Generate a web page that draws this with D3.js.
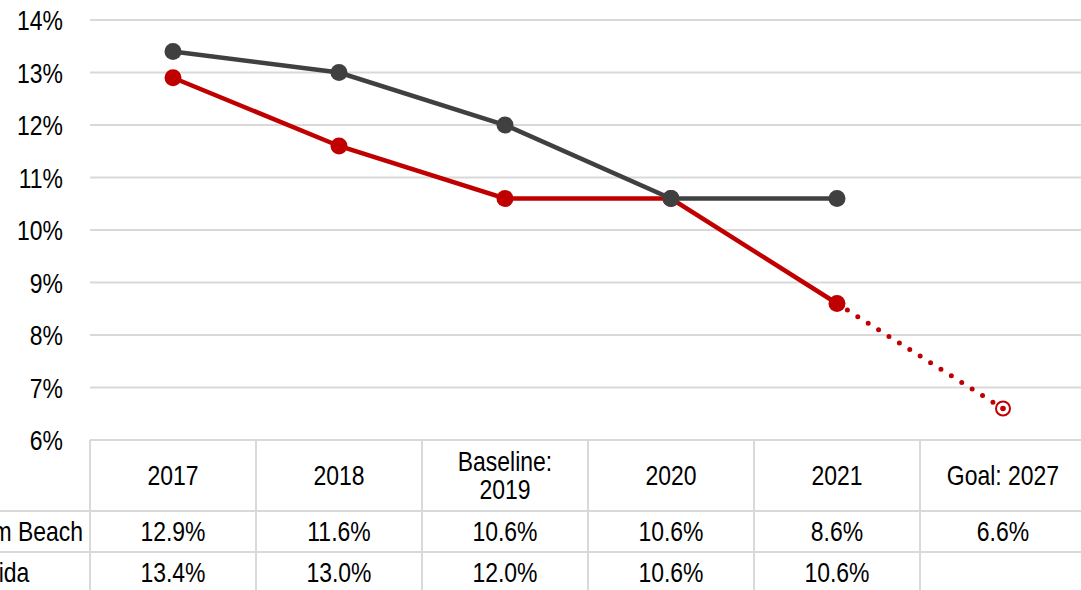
<!DOCTYPE html>
<html>
<head>
<meta charset="utf-8">
<script src="https://cdn.jsdelivr.net/npm/d3@7"></script>
<style>
  html, body { margin: 0; padding: 0; background: #fff; overflow: hidden; }
  svg { display: block; font-family: "Liberation Sans Narrow", "Arial Narrow", "Liberation Sans", Arial, sans-serif; }
</style>
</head>
<body>
<svg id="chart" width="1081" height="590"></svg>
<script>
// Category columns (header labels; "\n" breaks a label onto two lines)
const categories = ["2017", "2018", "Baseline:\n2019", "2020", "2021", "Goal: 2027"];
// Series names
const seriesNames = ["Palm Beach", "Florida"];
// Palm Beach rate by year; last entry is the 2027 goal
const palmBeach = [12.9, 11.6, 10.6, 10.6, 8.6, 6.6];
// Florida rate by year (no goal)
const florida = [13.4, 13.0, 12.0, 10.6, 10.6, null];
// Y axis ticks (percent)
const yTicks = [6, 7, 8, 9, 10, 11, 12, 13, 14];

const RED = "#C00000", GRAY = "#404040", GRID = "#D9D9D9";
const FS = 28;
const SQUEEZE = 0.82; // condensed lettering

// compress text horizontally about its own x anchor
function narrow(sel) {
  sel.attr("transform", function () {
    const x = +this.getAttribute("x") || 0;
    return `translate(${x},0) scale(${SQUEEZE},1) translate(${-x},0)`;
  });
}

const svg = d3.select("#chart");
const plotL = 90, plotR = 1086, plotT = 20, plotB = 440;
const rowH = [71, 41, 41];

const x = d3.scaleBand().domain(categories).range([plotL, plotR]).padding(0);
const y = d3.scaleLinear().domain([6, 14]).range([plotB, plotT]);
const cx = c => x(c) + x.bandwidth() / 2;

// horizontal gridlines
svg.append("g").selectAll("line").data(yTicks.slice(1)).join("line")
  .attr("x1", plotL).attr("x2", plotR)
  .attr("y1", d => y(d)).attr("y2", d => y(d))
  .attr("stroke", GRID).attr("stroke-width", 2);

// y axis labels
const yAxis = d3.axisLeft(y).tickValues(yTicks).tickFormat(d => d + "%").tickSize(0).tickPadding(0);
const yg = svg.append("g").attr("transform", "translate(63,0)").call(yAxis);
yg.select(".domain").remove();
yg.attr("font-family", null).attr("font-size", null);
yg.selectAll("text").attr("font-size", FS).attr("fill", "#000").attr("dy", "0.35em").call(narrow);

// data table grid
const rowY = [plotB, plotB + rowH[0], plotB + rowH[0] + rowH[1], plotB + rowH[0] + rowH[1] + rowH[2]];
const tbl = svg.append("g");
tbl.selectAll("line.h").data(rowY).join("line").attr("class", "h")
  .attr("x1", (d, i) => i === 0 ? plotL : 0).attr("x2", plotR)
  .attr("y1", d => d).attr("y2", d => d)
  .attr("stroke", GRID).attr("stroke-width", 2);
const colEdges = categories.map(c => x(c)).concat([plotR]);
tbl.selectAll("line.v").data(colEdges).join("line").attr("class", "v")
  .attr("x1", d => d).attr("x2", d => d)
  .attr("y1", plotB).attr("y2", 590)
  .attr("stroke", GRID).attr("stroke-width", 2);

// header labels
const hdr = tbl.append("g");
categories.forEach(c => {
  const lines = c.split("\n");
  const midY = (rowY[0] + rowY[1]) / 2;
  const lh = 28;
  const t = hdr.append("text").attr("x", cx(c)).attr("text-anchor", "middle")
    .attr("font-size", FS).attr("fill", "#000");
  lines.forEach((ln, i) => {
    t.append("tspan").attr("x", cx(c))
      .attr("y", midY + (i - (lines.length - 1) / 2) * lh)
      .attr("dy", "0.35em").text(ln);
  });
  t.call(narrow);
});

// value rows
const fmt = d => d == null ? "" : d3.format(".1f")(d) + "%";
[palmBeach, florida].forEach((vals, r) => {
  const midY = (rowY[r + 1] + rowY[r + 2]) / 2;
  tbl.append("g").selectAll("text").data(vals).join("text")
    .attr("x", (d, i) => cx(categories[i]))
    .attr("y", midY).attr("dy", "0.35em")
    .attr("text-anchor", "middle").attr("font-size", FS).attr("fill", "#000")
    .text(fmt).call(narrow);
});

// row names share a left edge; the longer one ends just before the table
const names = tbl.append("g").selectAll("text").data(seriesNames).join("text")
  .attr("y", (d, r) => (rowY[r + 1] + rowY[r + 2]) / 2).attr("dy", "0.35em")
  .attr("font-size", FS).attr("fill", "#000").text(d => d);
const maxW = d3.max(names.nodes(), n => n.getComputedTextLength()) * SQUEEZE;
names.attr("x", 83 - maxW).call(narrow);

// lines
const line = d3.line().defined(d => d.v != null).x(d => cx(d.c)).y(d => y(d.v));
const pb = palmBeach.map((v, i) => ({ c: categories[i], v }));
const fl = florida.map((v, i) => ({ c: categories[i], v }));
const pbActual = pb.slice(0, 5);
const pbGoal = pb.slice(4);

// dotted projection to goal
svg.append("path").datum(pbGoal).attr("d", line)
  .attr("fill", "none").attr("stroke", RED).attr("stroke-width", 5)
  .attr("stroke-linecap", "round").attr("stroke-dasharray", "0 12.3");

svg.append("path").datum(pbActual).attr("d", line)
  .attr("fill", "none").attr("stroke", RED).attr("stroke-width", 4.5);
svg.append("g").selectAll("circle").data(pbActual).join("circle")
  .attr("cx", d => cx(d.c)).attr("cy", d => y(d.v)).attr("r", 8.5).attr("fill", RED);

svg.append("path").datum(fl.filter(d => d.v != null)).attr("d", line)
  .attr("fill", "none").attr("stroke", GRAY).attr("stroke-width", 4.5);
svg.append("g").selectAll("circle").data(fl.filter(d => d.v != null)).join("circle")
  .attr("cx", d => cx(d.c)).attr("cy", d => y(d.v)).attr("r", 8.5).attr("fill", GRAY);

// goal target marker
const g = pb[5];
svg.append("circle").attr("cx", cx(g.c)).attr("cy", y(g.v)).attr("r", 7)
  .attr("fill", "#fff").attr("stroke", RED).attr("stroke-width", 2);
svg.append("circle").attr("cx", cx(g.c)).attr("cy", y(g.v)).attr("r", 2.8).attr("fill", RED);
</script>
</body>
</html>
